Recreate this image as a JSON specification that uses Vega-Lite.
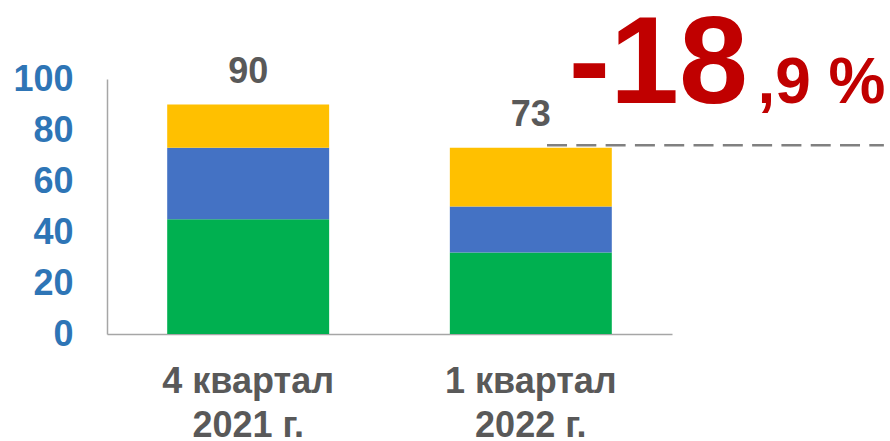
{
  "$schema": "https://vega.github.io/schema/vega-lite/v6.json",
  "autosize": {"type": "none"},
  "padding": {"left": 107, "top": 79, "right": 218, "bottom": 107},
  "width": 565,
  "height": 255,
  "config": {
    "view": {"stroke": null},
    "font": "Liberation Sans",
    "text": {"font": "Liberation Sans"}
  },
  "data": {
    "values": [
      {"period": "4 квартал 2021 г.", "series": "1", "value": 45},
      {"period": "4 квартал 2021 г.", "series": "2", "value": 28},
      {"period": "4 квартал 2021 г.", "series": "3", "value": 17},
      {"period": "1 квартал 2022 г.", "series": "1", "value": 32},
      {"period": "1 квартал 2022 г.", "series": "2", "value": 18},
      {"period": "1 квартал 2022 г.", "series": "3", "value": 23}
    ]
  },
  "layer": [
    {
      "mark": {"type": "bar"},
      "encoding": {
        "x": {
          "field": "period",
          "type": "nominal",
          "sort": ["4 квартал 2021 г.", "1 квартал 2022 г."],
          "scale": {"paddingInner": 0.427, "paddingOuter": 0.213},
          "axis": {
            "title": null,
            "labelAngle": 0,
            "ticks": false,
            "tickSize": 0,
            "domainColor": "#A6A6A6",
            "domainWidth": 1.5,
            "labelFont": "Liberation Sans",
            "labelFontSize": 36,
            "labelFontWeight": "bold",
            "labelColor": "#595959",
            "labelLineHeight": 44,
            "labelPadding": 30,
            "labelBaseline": "top",
            "labelExpr": "[substring(datum.label, 0, 9), substring(datum.label, 10)]"
          }
        },
        "y": {
          "field": "value",
          "type": "quantitative",
          "stack": "zero",
          "scale": {"domain": [0, 100], "nice": false},
          "axis": {
            "title": null,
            "values": [0, 20, 40, 60, 80, 100],
            "grid": false,
            "ticks": false,
            "tickSize": 0,
            "domainColor": "#A6A6A6",
            "domainWidth": 1.5,
            "labelFont": "Liberation Sans",
            "labelFontSize": 36,
            "labelFontWeight": "bold",
            "labelColor": "#2E75B6",
            "labelPadding": 34
          }
        },
        "color": {
          "field": "series",
          "type": "nominal",
          "scale": {"domain": ["1", "2", "3"], "range": ["#00B050", "#4472C4", "#FFC000"]},
          "legend": null
        },
        "order": {"field": "series", "type": "ordinal"}
      }
    },
    {
      "transform": [
        {"aggregate": [{"op": "sum", "field": "value", "as": "total"}], "groupby": ["period"]}
      ],
      "mark": {
        "type": "text",
        "font": "Liberation Sans",
        "fontSize": 36,
        "fontWeight": "bold",
        "color": "#595959",
        "baseline": "alphabetic",
        "dy": -22
      },
      "encoding": {
        "x": {"field": "period", "type": "nominal", "sort": ["4 квартал 2021 г.", "1 квартал 2022 г."]},
        "y": {"field": "total", "type": "quantitative"},
        "text": {"field": "total", "type": "quantitative"}
      }
    },
    {
      "data": {"values": [{}]},
      "mark": {"type": "rule", "color": "#808080", "strokeWidth": 2.5, "strokeDash": [20, 9.3]},
      "encoding": {
        "x": {"datum": "1 квартал 2022 г.", "type": "nominal", "bandPosition": 0.6},
        "x2": {"datum": "1 квартал 2022 г.", "bandPosition": 2.68},
        "y": {"datum": 74, "type": "quantitative", "title": null}
      }
    },
    {
      "data": {"values": [{}]},
      "mark": {
        "type": "text",
        "text": "-18",
        "font": "Liberation Sans",
        "fontSize": 124,
        "fontWeight": "bold",
        "color": "#C00000",
        "align": "left",
        "baseline": "alphabetic"
      },
      "encoding": {
        "x": {"datum": "1 квартал 2022 г.", "type": "nominal", "bandPosition": 0.734},
        "y": {"datum": 90.6, "type": "quantitative", "title": null}
      }
    },
    {
      "data": {"values": [{}]},
      "mark": {
        "type": "text",
        "text": ",9 %",
        "font": "Liberation Sans",
        "fontSize": 64,
        "fontWeight": "bold",
        "color": "#C00000",
        "align": "right",
        "baseline": "alphabetic"
      },
      "encoding": {
        "x": {"datum": "1 квартал 2022 г.", "type": "nominal", "bandPosition": 2.69},
        "y": {"datum": 90.6, "type": "quantitative", "title": null}
      }
    }
  ]
}
